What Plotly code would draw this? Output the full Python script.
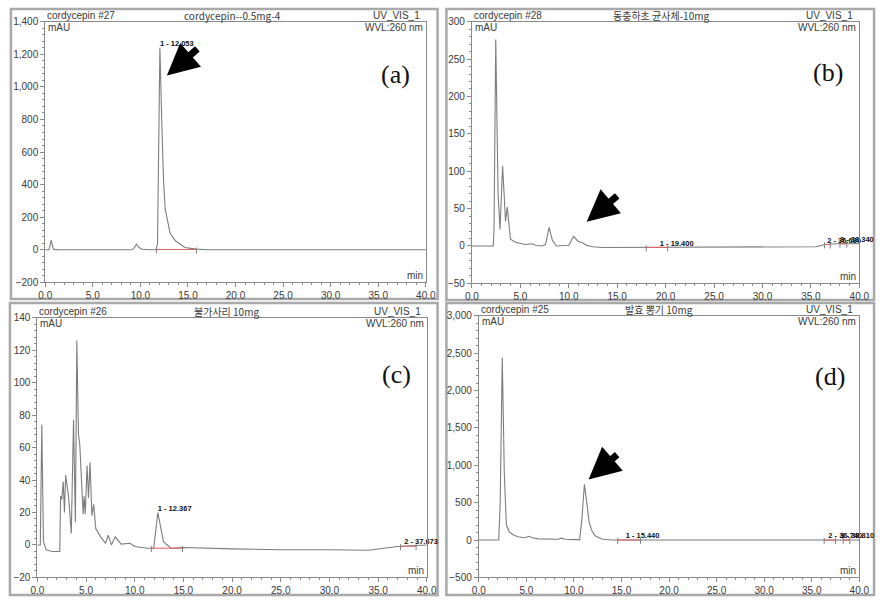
import plotly.graph_objects as go

W, H = 887, 604

# ---------------- data ----------------
# panel (a) cordycepin standard
tA = [0.0, 0.40, 0.62, 0.85, 1.3, 9.1, 9.35, 9.58, 9.85, 10.2, 11.0, 11.65, 11.8, 12.05, 12.25, 12.44, 12.61, 12.9, 13.13, 13.7, 14.68, 15.88, 17.0, 40.0]
vA = [0, 0, 60, 4, 0, 0, 12, 34, 14, 3, 0, 0, 40, 1240, 780, 415, 250, 175, 100, 54, 14, 4, 0, 0]

# panel (b) Cordyceps mycelium
tB = [0.0, 2.2, 2.28, 2.46, 2.7, 2.9, 3.17, 3.35, 3.47, 3.65, 3.85, 3.98, 4.5, 5.5, 6.2, 6.6, 7.2, 7.6, 7.97, 8.3, 8.7, 9.5, 10.0, 10.5, 10.9, 11.2, 11.47, 11.8, 12.5, 13.5, 20.0, 30.0, 35.5, 36.5, 37.5, 40.0]
vB = [0, 0, 20, 276, 70, 22, 107, 50, 33, 52, 25, 9, 5, 2, 3, 1, 0, 2, 25, 8, 0, 0, 1, 13, 7, 5, 4, 1, -1, -2, -2, -2, -1, 2, 3, 3]

# panel (c)
tC = [0.0, 0.30, 0.45, 0.62, 0.9, 1.5, 2.3, 2.38, 2.5, 2.65, 2.78, 2.9, 3.2, 3.48, 3.71, 3.9, 4.05, 4.22, 4.35, 4.55, 4.7, 4.8, 4.92, 5.1, 5.25, 5.4, 5.6, 5.78, 6.0, 6.5, 7.0, 7.27, 7.6, 8.0, 8.6, 9.5, 10.0, 11.3, 11.95, 12.37, 12.95, 13.7, 15.0, 20.0, 25.0, 30.0, 34.0, 37.0, 40.0]
vC = [0, 0, 74, 2, -3, -4, -4, 30, 28, 39, 20, 43, 30, 7, 77, 14, 126, 68, 62, 40, 19, 30, 19, 49, 29, 51, 18, 25, 10, 5, 1, 6, 0, 5, 0.5, 1, -1, -2, -2, 20, 2, -2, -1.6, -2.4, -3, -3, -3.3, -1, 0]

# panel (d)
tD = [0.0, 2.1, 2.25, 2.47, 2.68, 2.9, 3.2, 3.6, 4.1, 4.8, 5.3, 5.6, 6.3, 7.0, 8.3, 8.7, 9.1, 10.0, 10.6, 10.85, 11.1, 11.35, 11.6, 11.9, 12.2, 12.9, 14.0, 20.0, 35.0, 40.0]
vD = [0, 0, 500, 2440, 900, 200, 110, 70, 45, 30, 50, 30, 15, 10, 10, 25, 10, 5, 5, 300, 745, 500, 240, 120, 60, 13, 0, 0, 0, 0]

# integration baselines (start, end, level)
intA = [(11.7, 15.9, 2)]
intB = [(18.0, 20.2, -2), (36.4, 37.0, 2), (38.0, 38.7, 3)]
intC = [(11.7, 14.9, -2), (37.3, 38.9, -0.8)]
intD = [(14.6, 17.0, 0), (36.3, 37.5, 0), (38.3, 39.0, 0)]

# peak labels (time, level, text)
lblA = [(12.053, 1240, "1 - 12.053")]
lblB = [(19.4, -2, "1 - 19.400"), (36.68, 2, "2 - 36.680"), (38.0, 3, "3 - 38.340")]
lblC = [(12.367, 20, "1 - 12.367"), (37.673, -0.8, "2 - 37.673")]
lblD = [(15.44, 0, "1 - 15.440"), (36.74, 0, "2 - 36.740"), (38.0, 0, "3 - 38.810")]

titles = [
    ("cordycepin #27", "cordycepin--0.5mg-4"),
    ("cordycepin #28", "동충하초 균사체-10mg"),
    ("cordycepin #26", "불가사리 10mg"),
    ("cordycepin #25", "발효 뽕기 10mg"),
]
panel_tags = ["(a)", "(b)", "(c)", "(d)"]

# ---------------- layout geometry (pixels) ----------------
panels = [
    dict(t=tA, v=vA, ints=intA, lbls=lblA, xpx=(39, 427), ypx=(16, 282), yr=(-200, 1400), dt=200, mdt=40,
         frame=(4, 3, 439, 299), title_x=230, tag=(396, 70),
         arrow=((195, 43), (163, 71))),
    dict(t=tB, v=vB, ints=intB, lbls=lblB, xpx=(474, 869), ypx=(16, 283), yr=(-50, 300), dt=50, mdt=10,
         frame=(448, 3, 884, 300), title_x=667, tag=(837, 68),
         arrow=((623, 193), (591, 220))),
    dict(t=tC, v=vC, ints=intC, lbls=lblC, xpx=(31, 428), ypx=(318, 583), yr=(-20, 140), dt=20, mdt=4,
         frame=(3, 303, 439, 601), title_x=224, tag=(397, 376),
         arrow=None),
    dict(t=tD, v=vD, ints=intD, lbls=lblD, xpx=(481, 869), ypx=(316, 583), yr=(-500, 3000), dt=500, mdt=100,
         frame=(448, 303, 884, 601), title_x=665, tag=(839, 378),
         arrow=((623, 457), (593, 483))),
]

FONT = "Liberation Sans, Arial, sans-serif"
KFONT = "Noto Sans CJK KR, Liberation Sans, sans-serif"
AXC = "#8a8a8a"
TXT = "#3a3a3a"

fig = go.Figure()
layout = dict(width=W, height=H, margin=dict(l=0, r=0, t=0, b=0),
              paper_bgcolor="white", plot_bgcolor="white", showlegend=False)
shapes, annotations = [], []

def px(x):
    return x / W

def py(y):
    return 1 - y / H

for i, p in enumerate(panels):
    n = "" if i == 0 else str(i + 1)
    xa, ya = "x" + n, "y" + n
    x0, x1 = p["xpx"]
    y0, y1 = p["ypx"]
    layout["xaxis" + n] = dict(
        domain=[px(x0), px(x1)], range=[0, 40], anchor=ya,
        tickvals=[0, 5, 10, 15, 20, 25, 30, 35, 40], tickformat=".1f",
        ticks="outside", ticklen=4, tickcolor=AXC, showgrid=False, zeroline=False,
        showline=True, mirror=True, linecolor=AXC, linewidth=1,
        tickfont=dict(family=FONT, size=10, color=TXT),
        minor=dict(dtick=1, ticks="outside", ticklen=2, tickcolor=AXC, showgrid=False),
    )
    layout["yaxis" + n] = dict(
        domain=[py(y1), py(y0)], range=list(p["yr"]), anchor=xa,
        dtick=p["dt"], tickformat=",d",
        ticks="outside", ticklen=4, tickcolor=AXC, showgrid=False, zeroline=False,
        showline=True, mirror=True, linecolor=AXC, linewidth=1,
        tickfont=dict(family=FONT, size=10, color=TXT),
        minor=dict(dtick=p["mdt"], ticks="outside", ticklen=2, tickcolor=AXC, showgrid=False),
    )
    # chromatogram trace
    fig.add_trace(go.Scatter(x=p["t"], y=p["v"], mode="lines", xaxis=xa, yaxis=ya,
                             line=dict(color="#7d7d7d", width=1.1), hoverinfo="skip"))
    # integration baselines (red) and delimiter ticks (grey)
    span = p["yr"][1] - p["yr"][0]
    rx, ry, gx, gy = [], [], [], []
    for (s, e, lv) in p["ints"]:
        rx += [s, e, None]
        ry += [lv, lv, None]
        for tt in (s, e):
            gx += [tt, tt, None]
            gy += [lv + 0.008 * span, lv - 0.015 * span, None]
    fig.add_trace(go.Scatter(x=rx, y=ry, mode="lines", xaxis=xa, yaxis=ya,
                             line=dict(color="#e06060", width=1), hoverinfo="skip"))
    fig.add_trace(go.Scatter(x=gx, y=gy, mode="lines", xaxis=xa, yaxis=ya,
                             line=dict(color="#808080", width=1), hoverinfo="skip"))
    # peak labels
    fig.add_trace(go.Scatter(x=[l[0] for l in p["lbls"]], y=[l[1] for l in p["lbls"]],
                             text=[l[2] for l in p["lbls"]], mode="text", textposition="top right",
                             xaxis=xa, yaxis=ya, cliponaxis=False,
                             textfont=dict(family=FONT, size=7.5, color="#111111"),
                             texttemplate="<b>%{text}</b>", hoverinfo="skip"))
    # outer panel frame
    fx0, fy0, fx1, fy1 = p["frame"]
    shapes.append(dict(type="rect", xref="paper", yref="paper",
                       x0=px(fx0), x1=px(fx1), y0=py(fy1), y1=py(fy0),
                       line=dict(color="#a9a9a9", width=2.5), layer="below"))
    # header texts
    left_t, mid_t = titles[i]
    top_y = y0 - 6
    annotations += [
        dict(text=left_t, x=px(x0), y=py(top_y), xanchor="left", yanchor="middle",
             font=dict(family=FONT, size=10, color=TXT)),
        dict(text=mid_t, x=px(p["title_x"]), y=py(top_y), xanchor="center", yanchor="middle",
             font=dict(family=KFONT, size=10, color=TXT)),
        dict(text="UV_VIS_1", x=px(x1 - 4), y=py(top_y), xanchor="right", yanchor="middle",
             font=dict(family=FONT, size=10, color=TXT)),
        dict(text="WVL:260 nm", x=px(x1 - 1), y=py(y0 + 6), xanchor="right", yanchor="middle",
             font=dict(family=FONT, size=10, color=TXT)),
        dict(text="mAU", x=px(x0 + 1), y=py(y0 + 6), xanchor="left", yanchor="middle",
             font=dict(family=FONT, size=10, color=TXT)),
        dict(text="min", x=px(x1 - 1), y=py(y1 - 7), xanchor="right", yanchor="middle",
             font=dict(family=FONT, size=10, color=TXT)),
        dict(text=panel_tags[i], x=px(p["tag"][0]), y=py(p["tag"][1]), xanchor="center", yanchor="middle",
             font=dict(family="Liberation Serif, Times New Roman, serif", size=26, color="#111111")),
    ]
    if p["arrow"]:
        (tx, ty), (hx, hy) = p["arrow"]
        annotations.append(dict(
            x=px(hx), y=py(hy), xref="paper", yref="paper", text="",
            showarrow=True, ax=tx - hx, ay=ty - hy, axref="pixel", ayref="pixel",
            arrowhead=2, arrowsize=0.9, arrowwidth=7, arrowcolor="#000000"))

for a in annotations:
    a.setdefault("xref", "paper")
    a.setdefault("yref", "paper")
    a.setdefault("showarrow", False)

layout["shapes"] = shapes
layout["annotations"] = annotations
fig.update_layout(**layout)
fig.write_html("out.html")
